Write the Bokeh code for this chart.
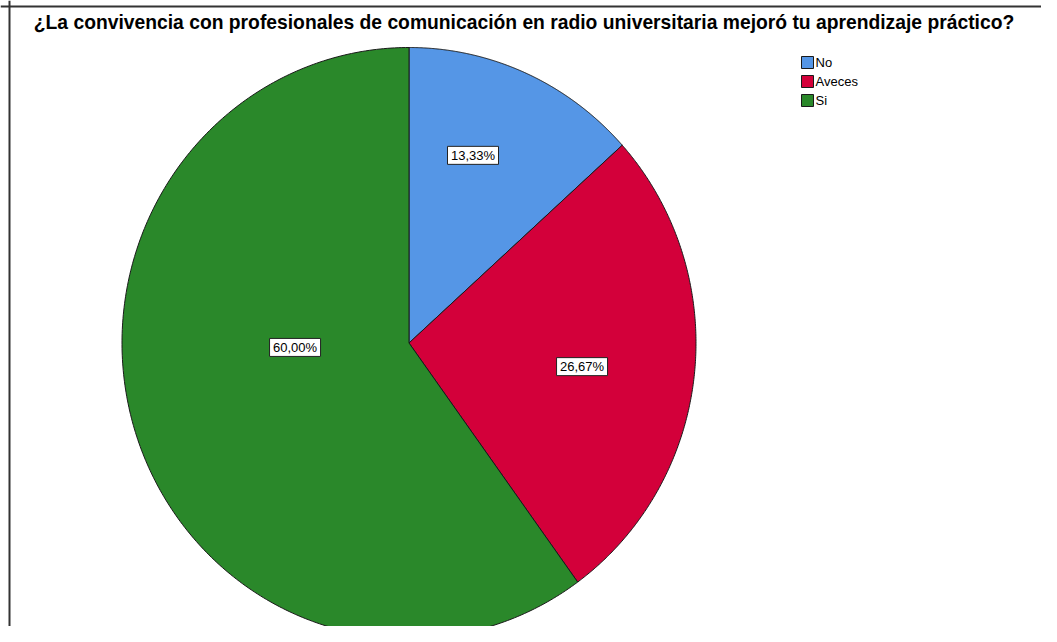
import numpy as np
from bokeh.plotting import figure
from bokeh.models import ColumnDataSource, Range1d, Span
from bokeh.core.properties import value
from bokeh.embed import file_html
from bokeh.resources import INLINE

# ---- data ----
title = "¿La convivencia con profesionales de comunicación en radio universitaria mejoró tu aprendizaje práctico?"
categories = ["No", "Aveces", "Si"]
percentages = [13.33, 26.67, 60.00]
labels = ["13,33%", "26,67%", "60,00%"]
colors = ["#5596e6", "#d3003a", "#2a882a"]

# ---- layout (canvas pixels) ----
W, H = 1041, 626
CX, CY = 408.5, 342.5
RX, RY = 287.0, 295.5
# label anchors as fractions of radius (x right, y up) -- layout only
label_pos = [(0.223, 0.635), (0.603, -0.080), (-0.397, -0.015)]

def X(px):
    return (px - CX) / RX

def Y(py):
    return (CY - py) / RY

p = figure(width=W, height=H, output_backend="svg", toolbar_location=None,
           x_range=Range1d(X(0), X(W)), y_range=Range1d(Y(H), Y(0)),
           min_border=0, outline_line_color=None)
p.axis.visible = False
p.grid.visible = False
p.background_fill_color = "white"
p.border_fill_color = "white"

# pie slices, clockwise from top
fr = np.array(percentages) / sum(percentages)
ends = np.cumsum(fr) * 2 * np.pi
starts = ends - fr * 2 * np.pi
xs, ys = [], []
for s, e in zip(starts, ends):
    t = np.linspace(s, e, 300)
    xs.append(np.concatenate([[0.0], np.sin(t), [0.0]]))
    ys.append(np.concatenate([[0.0], np.cos(t), [0.0]]))
src = ColumnDataSource(dict(xs=xs, ys=ys, color=colors, cat=categories))
p.patches("xs", "ys", source=src, fill_color="color", line_color="#1a1a1a", line_width=1)

# labels with white boxes
lsrc = ColumnDataSource(dict(x=[a for a, b in label_pos], y=[b for a, b in label_pos], text=labels))
p.rect("x", "y", source=lsrc, width=51, height=18, width_units="screen", height_units="screen",
       fill_color="white", line_color="#222222", line_width=1)
p.text("x", "y", text="text", source=lsrc, text_align="center", text_baseline="middle",
       text_font=value("Liberation Sans"), text_font_size="13px", text_color="black")

# title
p.text(x=[X(523.5)], y=[Y(22)], text=[title], text_align="center", text_baseline="middle",
       text_font=value("Liberation Sans"), text_font_style="bold", text_font_size="19.3px",
       text_color="black")

# legend
ly = [Y(62), Y(81), Y(100)]
p.rect(x=[X(807)] * 3, y=ly, width=12, height=12, width_units="screen", height_units="screen",
       fill_color=colors, line_color="#1a1a1a", line_width=1)
p.text(x=[X(815)] * 3, y=ly, text=categories, text_align="left", text_baseline="middle",
       text_font=value("Liberation Sans"), text_font_size="13px", text_color="black")

# frame border (left and top)
p.add_layout(Span(location=X(9), dimension="height", line_color="#333333", line_width=2))
p.add_layout(Span(location=Y(6), dimension="width", line_color="#333333", line_width=2))

open("out.html", "w").write(file_html(p, INLINE))
